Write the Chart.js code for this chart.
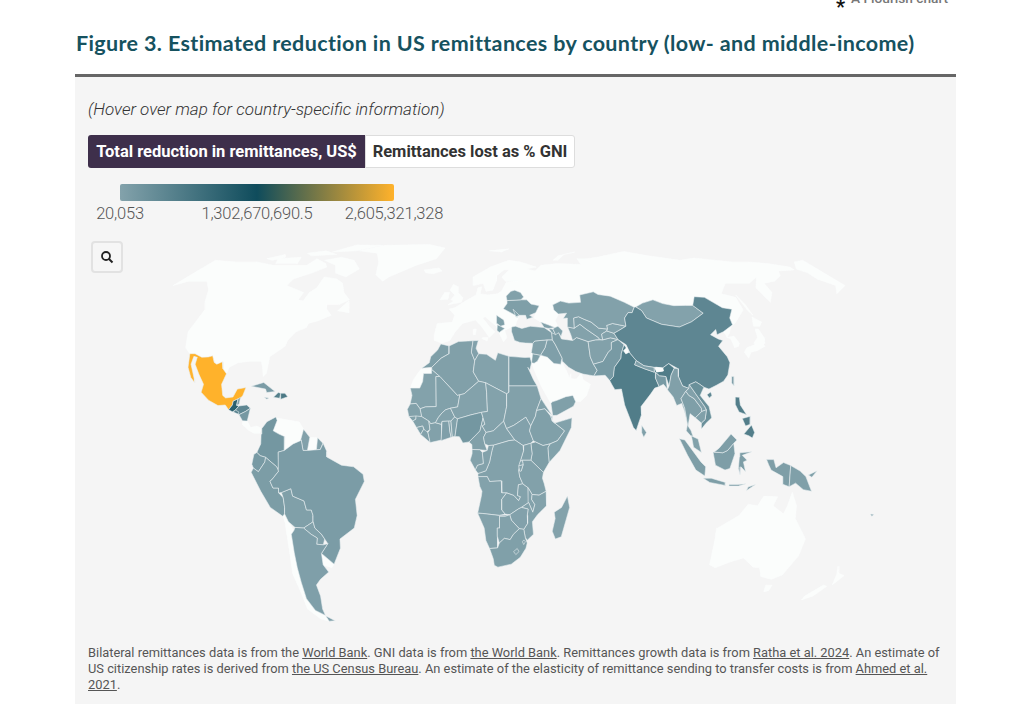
<!DOCTYPE html>
<html>
<head>
<meta charset="utf-8">
<title>Figure 3</title>
<script src="https://cdn.jsdelivr.net/npm/chart.js@4/dist/chart.umd.min.js"></script>
<style>
  html, body { margin: 0; padding: 0; background: #fff; overflow: hidden; }
  body { width: 1023px; height: 719px; position: relative; font-family: Roboto, sans-serif; }
  .abs { position: absolute; white-space: nowrap; }
  #flourish { left: 851px; top: -10px; font-size: 13.7px; color: #777; font-weight: 500; }
  #asterisk { left: 836px; top: -5px; font-size: 20px; color: #111; font-weight: 700; }
  #title { left: 76px; top: 30px; font: 700 21.5px Lato, sans-serif; color: #16525f; letter-spacing: .36px; }
  #rule { left: 75px; top: 74px; width: 881px; height: 3px; background: #666; }
  #panel { left: 75px; top: 77px; width: 881px; height: 627px; background: #f5f5f5; }
  #hint { left: 88px; top: 99px; font-size: 17px; font-style: italic; font-weight: 300; color: #333; }
  .btn { top: 135px; height: 33px; line-height: 33px; box-sizing: border-box; font-size: 16.5px; font-weight: 700; text-align: center; }
  #btn1 { left: 88px; width: 277px; background: #3e2f4b; color: #fff; border-radius: 3px 0 0 3px; }
  #btn2 { left: 365px; width: 210px; background: #fff; color: #333; border: 1px solid #ddd; line-height: 31px; border-radius: 0 3px 3px 0; }
  #ramp { left: 120px; top: 184px; width: 274px; height: 17px; border-radius: 2px;
    background: linear-gradient(to right, #83a2ab, #0f4c5c 50%, #ffb22b); }
  .lab { top: 204px; font-size: 16.5px; font-weight: 300; color: #555; transform: translateX(-50%); letter-spacing: -.2px; }
  #zoomBtn { left: 91px; top: 241px; width: 32px; height: 32px; box-sizing: border-box; border: 2px solid #e2e2e2; border-radius: 4px; background: #f6f6f6; z-index: 3; }
  #mapBox { left: 75px; top: 225px; width: 881px; height: 415px; }
  #note { left: 88px; top: 645px; width: 868px; font-size: 12.85px; line-height: 16px; color: #555; white-space: nowrap; }
  #note u { text-underline-offset: 1px; }
</style>
</head>
<body>
<div class="abs" id="asterisk">*</div>
<div class="abs" id="flourish">A Flourish chart</div>
<div class="abs" id="title">Figure 3. Estimated reduction in US remittances by country (low- and middle-income)</div>
<div class="abs" id="rule"></div>
<div class="abs" id="panel"></div>
<div class="abs" id="hint">(Hover over map for country-specific information)</div>
<div class="abs btn" id="btn1">Total reduction in remittances, US$</div>
<div class="abs btn" id="btn2">Remittances lost as % GNI</div>
<div class="abs" id="ramp"></div>
<div class="abs lab" id="lab0" style="left:120px"></div>
<div class="abs lab" id="lab1" style="left:257px"></div>
<div class="abs lab" id="lab2" style="left:394px"></div>
<div class="abs" id="zoomBtn">
  <svg width="28" height="28" viewBox="0 0 28 28"><circle cx="13" cy="13" r="4" fill="none" stroke="#222" stroke-width="1.8"/><line x1="16" y1="16" x2="19.5" y2="19.5" stroke="#222" stroke-width="2"/></svg>
</div>
<div class="abs" id="mapBox"><canvas id="map"></canvas></div>
<div class="abs" id="note">Bilateral remittances data is from the <u>World Bank</u>. GNI data is from <u>the World Bank</u>. Remittances growth data is from <u>Ratha et al. 2024</u>. An estimate of<br>US citizenship rates is derived from <u>the US Census Bureau</u>. An estimate of the elasticity of remittance sending to transfer costs is from <u>Ahmed et al.<br>2021</u>.</div>

<script>
// ───── DATA ─────
const legendTicks = ["20,053", "1,302,670,690.5", "2,605,321,328"];
const legendValues = [20053, 1302670690.5, 2605321328];
const legendColors = ["#83a2ab", "#0f4c5c", "#ffb22b"];

// Land with no value (high-income countries), lon/lat pairs
// map is cut at 155W, so western Alaska and Chukotka use lon > 180
const noData = [
  [-155,71,-141,70,-128,70,-115,68,-108,68,-95,68,-94,72,-85,69,-82,67,-87,64,-94,61,-94,58,-88,56.5,-82,55,-82,52,-79,51.5,-79,55,-77,57,-78,62,-70,61,-65,59,-61,55,-56,52,-60,50,-66,50,-65,48.5,-61,46,-66,44,-70,43,-70,41.5,-74,40,-76,37,-76,35,-81,31.5,-80,26,-81,25,-82.5,28,-84,30,-89,30,-94,29.5,-97,28,-97.2,26,-99.5,27.5,-101,29.8,-103,29,-106.5,31.8,-111,31.3,-114.8,32.5,-117.1,32.5,-120.5,34.5,-124,40,-124.5,48,-128,51,-133,56,-140,60,-150,60,-155,58],
  [205,71,198,70,192,66,195,64,195,61,200,58,195,54.5,205,58],
  [-80,73,-70,71,-62,66,-66,62,-74,64,-78,68,-88,71],
  [-118,72,-105,73,-102,69,-115,69],
  [-90,77,-80,86,-62,85,-75,78],
  [-125,72,-118,75,-115,73,-120,71],
  [-105,76,-95,78,-85,75,-100,74],
  [-59,47.7,-56,51.5,-53,47],
  [-73,78,-60,85,-30,87,-18,81,-20,72,-30,68,-42,62,-44,60,-50,63,-54,70,-60,76],
  [-24,65.5,-16,66.5,-13.5,65,-18,63.5,-22.5,64],
  [-9,37,-9.5,39,-9,43,-2,43.4,-1.3,46,-4.5,48.4,-1.5,49,2,51,4,52,8,54,8.5,57,10.5,57.5,10,54.5,14,54,19,54.5,21,55.5,23.5,59.5,30,60,23,60,21,62,25,65.5,22,65.5,18,62.5,18,60,16.5,56,13,55.5,11,59,6,58,5,62,14,67,25,71,32,70,41,67,35,66,40,65,44,68,54,69,68,68.5,67,72,73,72,74,68,73,72,80,73,100,77.5,113,74,130,71,140,72.5,160,70,170,70,180,69,190,67,190,65.5,180,65,177,62.5,170,60,163,59,162,55,156.5,51,156,57,163,62,155,59,142,59,135,54.5,141,53,140,48,132,43,130.5,42.5,131,45,134.7,48.3,130.5,48.9,125,53,120,53.3,116.5,49.8,113,49.8,107,49.7,102,50.5,98,52,92,50.7,87.8,49.2,87,49.1,83,51,77,53.5,71,54.2,69,55.3,61.5,54,61,51,55,50.7,51,51.5,46.8,50,47,48,49,46.5,47,44,48,42,46.5,41.5,43.5,42.5,40,43.5,37,45,38,47,35,46,33,46,30,46,28.5,43.5,28,42,26.2,41.7,23,40.5,24,38,22.5,36.5,19.5,41,19,42,13.5,45.5,12.3,45,16,41.7,18.5,40,16,38,12,42,9,44.3,3,43,0,40,-2,37,-5.5,36],
  [-5.5,50,1,51,1.5,52.8,-1.5,55,-2,57.5,-5,58.5,-6,56,-3,54,-4.5,52,-3,51.5],
  [-10,52,-6,52.2,-6,55,-8.5,55],
  [13,38,15.5,38,15,36.8,12.5,37.7],
  [8.3,41,9.7,41,9.5,39,8.4,39],
  [12,78,25,80,20,77],
  [52,71,56,74,68,77,60,75,55,71],
  [142,54,143,50,143,46,142,48],
  [130,33,132,34.5,136,35.5,140,36,140.5,35,136,33.5,133,33,131,31],
  [136,36,139,38,140,41,141.5,41,142,38,141,36,138,35],
  [140,42,142,45.4,145,43.5,143,42],
  [125,38,127,39.5,129.5,42,130.5,42.5,124.5,40,125,39],
  [126.5,34.5,126.5,37.5,125,38,128.5,38.5,129.5,36,128.5,35],
  [34.9,29.5,36,29.3,37.5,30,39,32,42,31.3,44.7,29.2,47.7,28.5,48,30,50,26.7,51,24.5,51.6,25.9,51.6,24.3,54,24.2,56.3,26.2,56.8,24,59.8,22.5,57.8,19,55,17,53,17,52,19,49,18.6,45,17.4,43.2,17,42.6,16.5,39,21.5,36.5,26],
  [34.3,31.3,34.9,29.5,35.5,32.5,35,33],
  [-72,12,-68,11.5,-62,10.7,-60,8.5,-61,5,-64,4,-67.5,2,-67.5,6.2,-70,7,-72.5,8,-71.3,11.2],
  [-57.2,6,-54,5.9,-54.3,2.2,-58,2],
  [-70.4,-18.3,-69.5,-17.5,-68.5,-20,-67,-22.8,-68.5,-24,-69.5,-30,-70.5,-35,-71.5,-40,-73,-46,-72,-50.5,-68.5,-52.5,-68.6,-54.9,-72,-54,-75.5,-50,-74,-44,-73.7,-37,-71.5,-30,-70,-20],
  [-57.6,-30.2,-53.4,-33.8,-55,-35,-58.4,-34],
  [-85.7,11.1,-83.7,11,-82,9,-79.5,9.5,-77.3,8.7,-78,7.3,-80.5,7.3,-83,8.3,-85.7,10],
  [-13,27.7,-8.7,27.7,-8.7,26,-12,26,-12,23.4,-13,21.3,-17,21.3,-16,24,-14.5,26],
  [113.5,-22,114,-26,115,-34,118,-35,124,-33,129,-31.7,135,-34.8,138,-35,140.5,-38,146,-39,150,-37.5,153,-31,153,-25.5,146,-19,145.3,-15,142.6,-10.8,141.5,-15,140.5,-17.5,135.5,-15,136.8,-12.2,131,-12,129,-15,125,-14.5,122,-18,114,-22],
  [145,-41,148,-41,148,-43,146,-43.5],
  [173,-34.5,175.5,-37,178.5,-37.7,176,-41,174.8,-37.5],
  [172,-41,174,-41.5,171,-45,167,-46.5,167,-45]
];

// drawn over the countries
const noDataTop = [
  [88.8,27.2,89,28,92,27.8,92,26.8,89,26.5],
  [76.2,33.5,78,34.6,78.6,33,77,32.4]
];

const countryNames = ["Mexico","Guatemala","Belize","Honduras","El Salvador","Nicaragua","Cuba","Jamaica","Haiti","Dominican Rep.",
  "Colombia","Guyana","French Guiana","Ecuador","Peru","Bolivia","Paraguay","Brazil","Argentina","Tierra del Fuego",
  "Morocco","Algeria","Tunisia","Libya","Egypt","Mauritania","Mali","Senegal","Guinea-Bissau","Guinea","Sierra Leone","Liberia","Cote d'Ivoire","Burkina Faso","Ghana","Togo","Benin","Niger","Nigeria","Cameroon","Chad","CAR","Sudan","South Sudan","Eritrea","Ethiopia","Djibouti","Somalia","Kenya","Uganda","DR Congo","Congo","Gabon","Angola","Zambia","Tanzania","Rwanda","Burundi","Malawi","Mozambique","Zimbabwe","Namibia","Botswana","South Africa","Lesotho","Eswatini","Madagascar",
  "Yemen","Jordan","Iraq","Syria","Turkey","Iran","Afghanistan","Pakistan","Turkmenistan","Uzbekistan","Tajikistan","Kyrgyzstan","Kazakhstan","Mongolia","China","Hainan","Taiwan","India","Nepal","Bangladesh","Myanmar","Thailand","Laos","Vietnam","Cambodia","Malaysia","Sumatra","Java","Kalimantan","Sarawak","Sulawesi","Timor","Flores","Papua","PNG","New Britain","Luzon","Mindanao","Visayas","Sri Lanka",
  "Ukraine","Belarus","Moldova","Georgia","Armenia","Azerbaijan","Serbia","Albania","Fiji"];

// Estimated reduction, US$, read from the map colour
const reductionUSD = [2605321328,1000000000,30000000,420000000,500000000,150000000,90000000,120000000,520000000,620000000,
  170000000,12000000,4000000,120000000,80000000,30000000,10000000,90000000,40000000,40000000,
  50000000,25000000,8000000,4000000,130000000,4000000,20000000,15000000,3000000,9000000,6000000,15000000,12000000,4000000,40000000,9000000,4000000,3000000,170000000,25000000,1000000,1000000,15000000,8000000,10000000,30000000,1000000,6000000,60000000,12000000,9000000,3000000,4000000,4000000,3000000,10000000,2000000,1000000,1000000,1000000,8000000,1000000,1000000,30000000,500000,500000,2000000,
  30000000,30000000,40000000,15000000,50000000,60000000,12000000,120000000,1000000,10000000,500000,2000000,15000000,2000000,420000000,420000000,180000000,560000000,30000000,120000000,25000000,50000000,10000000,280000000,30000000,20000000,60000000,60000000,60000000,60000000,60000000,60000000,60000000,60000000,30000000,30000000,540000000,540000000,540000000,30000000,
  50000000,15000000,6000000,15000000,20000000,6000000,30000000,20000000,120000000];

// Country outlines, lon/lat pairs, same order as countryNames
const outlines = [
  [-117.1,32.5,-114.8,32.5,-111,31.3,-108.2,31.4,-106.5,31.8,-104.5,29.6,-103,29,-101,29.8,-99.5,27.5,-97.2,25.9,-97.8,22.5,-96,19,-94.5,18.2,-91.5,18.5,-90.5,21,-87,21.5,-87.5,19,-88.3,18,-89.1,17.9,-91,17.2,-91,16,-92.2,14.5,-94,16,-97,15.8,-101.5,17.5,-105.5,20,-105.5,22.5,-109,25.7,-112.5,29,-113,31.3,-114.7,31.6,-114.3,29,-110.5,24.5,-109.5,23,-112,24.7,-115,28],
  [-92.2,14.5,-91,16,-91,17.2,-89.2,17.9,-89.2,15.9,-88.2,15.7,-89.3,14.4,-90.5,13.9],
  [-89.2,17.9,-88.3,18.4,-88.2,16.2,-89.2,15.9],
  [-89.3,14.4,-88.2,15.7,-85,16,-83.2,15,-85,14,-87.5,13],
  [-90.1,13.8,-89.3,14.4,-87.7,13.8,-88,13.2],
  [-87.5,13,-85,14,-83.2,15,-83.7,11,-85.7,11.1],
  [-84.9,21.9,-80,23.1,-74.2,20.2,-77.7,19.9,-78.5,21],
  [-78.3,18.4,-76.3,18.2,-77,17.8],
  [-74.4,18.4,-72.8,19.9,-71.7,19.7,-71.7,18.1],
  [-71.7,19.7,-69.9,19.7,-68.4,18.6,-71.4,17.7],
  [-77.3,8.7,-75.5,10.8,-72,12.3,-71.3,11.2,-72.5,8,-70,7,-67.5,6.2,-67.5,2,-70,1.5,-69.9,-4.3,-70.7,-3,-75.2,-0.1,-77.4,0.4,-78.8,1.4,-77.3,4,-77.4,7],
  [-60,8.5,-57.2,6,-58,2,-59.8,2,-60.7,5.2,-61,5],
  [-54,5.9,-51.7,4.2,-52.7,2.3,-54.3,2.2],
  [-80.9,-2.2,-80,0.8,-78.8,1.4,-77.4,0.4,-75.2,-0.1,-75.5,-1.5,-78.3,-4.5,-80.3,-3.4],
  [-81.3,-4.7,-80.3,-3.4,-78.3,-4.5,-75.5,-1.5,-75.2,-0.1,-70.7,-3,-69.9,-4.3,-73,-7,-73.8,-7.4,-72.8,-9.5,-70.5,-9.5,-70.6,-11,-69,-12.5,-69,-15.5,-69.5,-17.5,-70.4,-18.3,-75,-15.5,-78,-10.5],
  [-69.5,-10.9,-65.4,-9.7,-65,-12,-60.5,-13.5,-60,-16.3,-58,-16.3,-57.6,-18,-58,-20,-62.6,-22,-66.2,-21.8,-68.5,-20,-69.5,-17.5,-69,-15.5,-69,-12.5],
  [-62.6,-22,-58,-20,-57.8,-22,-55.5,-24,-54.6,-25.5,-55.8,-27.4,-58.6,-27.2,-57.7,-25.2,-60,-24],
  [-51.6,4.2,-50,1.7,-50,0,-44,-2.5,-39,-3,-35.2,-5.3,-34.8,-7.5,-39,-13,-39,-18,-41,-22,-48,-25.5,-48.7,-28.5,-53.4,-33.8,-57.6,-30.2,-53.7,-27,-54.6,-25.5,-55.5,-24,-57.8,-22,-58,-20,-57.6,-18,-58,-16.3,-60,-16.3,-60.5,-13.5,-65,-12,-65.4,-9.7,-69.5,-10.9,-70.6,-11,-70.5,-9.5,-72.8,-9.5,-73.8,-7.4,-73,-7,-69.9,-4.3,-70,1.5,-67.5,2,-64,4,-61,5,-60.7,5.2,-59.8,2,-58,2,-54.3,2.2,-52.7,2.3],
  [-66.2,-21.8,-62.6,-22,-60,-24,-57.7,-25.2,-58.6,-27.2,-55.8,-27.4,-53.7,-27,-57.6,-30.2,-58.4,-34,-57,-36.5,-62,-39,-65,-41,-65.5,-45,-68,-50,-68.5,-52.5,-72,-50.5,-73,-46,-71.5,-40,-70.5,-35,-69.5,-30,-68.5,-24,-67,-22.8],
  [-68.5,-52.7,-65.3,-54.7,-68.6,-54.9],

  [-5.9,35.8,-2,35.1,-1.7,32.5,-5,31,-8.7,28,-13,27.7,-10,29.5,-9.7,31.5,-7,33.7],
  [-2,35.1,2,36.6,8.6,36.9,8.2,33,9.9,30.2,9.5,26.5,12,23.5,6,19.5,3.2,19,-4.8,25,-8.7,27.3,-8.7,28,-5,31,-1.7,32.5],
  [8.6,36.9,11,37,10.2,34.3,11.5,32.5,9.9,30.2,8.2,33],
  [11.5,32.5,15,32.3,19,30.3,20,32.8,25,31.6,25,20,24,19.5,15,23,12,23.5,9.5,26.5,9.9,30.2],
  [25,31.6,32,31.2,34.3,31.3,34.9,29.5,34,27,33.2,28,35.5,24,37,22,25,22],
  [-17,21.3,-13,21.3,-12,23.4,-12,26,-8.7,26,-8.7,27.3,-4.8,25,-6.5,25,-5.5,15.5,-10,15.4,-12.2,14.8,-14,16.5,-16.5,16.3,-16,19],
  [-12.2,14.8,-10,15.4,-5.5,15.5,-6.5,25,-4.8,25,3.2,19,4.2,19.2,3.5,15.4,0.5,15,-1.5,14.5,-3,13.5,-4.5,12,-5.5,10.5,-7.5,10.2,-8.3,11,-11.4,12.4],
  [-17.5,14.7,-16.5,16.3,-14,16.5,-12.2,14.8,-11.4,12.4,-16.7,12.4],
  [-16.7,12.4,-13.7,12.6,-13.7,11.6,-15,11],
  [-15,11,-13.7,11.6,-13.7,12.6,-11.4,12.4,-8.3,11,-7.7,8.4,-9.5,7.4,-10.8,9.5,-13.3,9],
  [-13.3,9,-10.8,9.5,-10.3,8.5,-11.5,6.9],
  [-11.5,6.9,-10.3,8.5,-8.5,7.5,-7.5,4.4],
  [-7.5,4.4,-8.5,7.5,-7.7,8.4,-8.3,11,-7.5,10.2,-5.5,10.5,-3,10,-2.8,5.2],
  [-5.5,10.5,-4.5,12,-3,13.5,-1.5,14.5,0.5,15,2.4,12.3,0.9,11,0,11,-2.8,10.9,-3,10],
  [-3,5,-2.8,10.9,0,11,0.5,8,1.1,6],
  [1.1,6,0.5,8,0,11,0.9,11,1.6,6.2],
  [1.6,6.2,0.9,11,2.4,12.3,3.6,11.7,2.7,6.3],
  [0.5,15,3.5,15.4,4.2,19.2,6,19.5,12,23.5,15,23,15.5,20,16,14,13.5,13.7,9,12.9,3.6,11.7,2.4,12.3],
  [2.7,6.3,3.6,11.7,9,12.9,13.5,13.7,14.2,12,13,8,11.7,7,8.5,4.6,6,4.3,4.5,6.2],
  [8.5,4.6,11.7,7,13,8,14.2,12,15,10,13.9,9.5,15.5,7.5,14.5,6,15,4,16,2,13,2.2,9.8,2.3,9.7,3.8],
  [13.5,13.7,16,14,15.5,20,15,23,24,19.5,24,15.5,22.8,11,18.5,8,15.5,7.5,13.9,9.5,15,10,14.2,12],
  [15.5,7.5,18.5,8,22.8,11,24,8.7,27.4,5.2,25,5,18.6,3.6,16.5,3.5,15,4,14.5,6],
  [24,19.5,25,20,25,22,37,22,38.5,18,36.5,14.3,36,12.5,34,9.5,33,10.8,32,12.2,27,9.7,24,8.7,22.8,11,24,15.5],
  [24,8.7,27,9.7,32,12.2,33,10.8,34,9.5,33.5,8,35,5,34,4.2,30.8,3.5,27.4,5.2],
  [36.5,14.3,38.5,18,43,12.7,40,14.8],
  [36.5,14.3,40,14.8,42.4,12.5,43,11,48,8,45,5,41.9,4,39,3.5,35.9,4.6,35,5,33.5,8,34,9.5,36,12.5],
  [42.4,12.5,43.3,12.4,43,11],
  [43,11,44,10.4,51.2,12,50.8,9,46,2,41.5,-1.7,41,2.8,41.9,4,45,5,48,8],
  [34,4.2,35.9,4.6,39,3.5,41.9,4,41,2.8,41.5,-1.7,39.2,-4.7,34,-1,34.5,1],
  [30.8,3.5,34,4.2,34.5,1,34,-1,30.5,-1,29.6,-1.4,31,2],
  [12.2,-6,12.2,-5,13.2,-4.8,15.5,-4.2,17,-1.5,18,2,18.6,3.6,25,5,27.4,5.2,30.8,3.5,31,2,29.6,-1.4,29,-4,29.4,-6,30.7,-8.2,28.9,-8.5,28.5,-11.8,29.8,-12.2,29,-13.4,27,-11.8,24,-11,22,-11,21.8,-7.3,17,-7.5,16,-6],
  [11.1,-3.9,12.2,-5,13.2,-4.8,15.5,-4.2,17,-1.5,18,2,18.6,3.6,16.5,3.5,16,2,14,1.4,14.4,-2,12,-2.5],
  [9,-1,9.8,1,9.8,2.3,13,2.2,14,1.4,14.4,-2,12,-2.5,11.1,-3.9],
  [12.2,-6,16,-6,17,-7.5,21.8,-7.3,22,-11,24,-11,22,-13,22,-16.3,23.4,-17.6,20.9,-18,13.9,-17.4,11.8,-17.3,13.5,-12,13.8,-10.5,12.9,-9],
  [24,-11,27,-11.8,29,-13.4,29.8,-12.2,28.5,-11.8,28.9,-8.5,30.7,-8.2,32.9,-9.4,33.2,-14,30.2,-15.5,28.9,-16,25.3,-17.8,23.4,-17.6,22,-16.3,22,-13],
  [30.5,-1,34,-1,39.2,-4.7,38.8,-6.5,39.5,-8,40.4,-10.5,37.5,-11.7,34.6,-11.5,32.9,-9.4,30.7,-8.2,29.4,-6,29,-4,30,-4.3,30.8,-2.4],
  [29.6,-1.4,30.5,-1,30.8,-2.4,29,-2.7],
  [29,-2.7,30.8,-2.4,30,-4.3,29.4,-4.4],
  [32.9,-9.4,34.6,-11.5,34.4,-13,35.8,-14.6,35,-17,33.2,-14],
  [40.4,-10.5,40.7,-15,37,-17.8,34.9,-20,35.5,-24,32.9,-25.9,32,-25,31.3,-22.4,32.9,-20.5,32.7,-18,33,-16,30.2,-15.5,33.2,-14,35,-17,35.8,-14.6,34.4,-13,34.6,-11.5,37.5,-11.7],
  [25.3,-17.8,28.9,-16,30.2,-15.5,33,-16,32.7,-18,32.9,-20.5,31.3,-22.4,29.4,-22.2,26,-19.5],
  [11.8,-17.3,13.9,-17.4,20.9,-18,25.3,-17.8,23.4,-18.3,21,-18.3,21,-22,20,-22,20,-28.4,16.5,-28.6,15,-26,14.4,-22],
  [21,-18.3,23.4,-18.3,25.3,-17.8,26,-19.5,29.4,-22.2,26.9,-24,25.5,-25.7,23,-25.3,20.8,-26.8,20,-24.7,20,-22,21,-22],
  [16.5,-28.6,20,-28.4,20.8,-26.8,23,-25.3,25.5,-25.7,26.9,-24,29.4,-22.2,31.3,-22.4,32,-25,32.9,-26.8,32.4,-28.5,30,-31.5,26,-33.8,20,-34.8,18.4,-34.2,18,-32],
  [27,-29.6,28.6,-28.6,29.4,-29.6,28,-30.6],
  [30.8,-26.4,31.4,-25.8,32.1,-26.4,31.4,-27.3],
  [49.3,-12,50.4,-15.5,47.5,-24.8,45,-25.5,43.5,-23,44.5,-19,44,-17,47,-15.5],

  [42.6,16.5,43.2,12.7,45,12.8,52,15.6,53,17,52,19,49,18.6,45,17.4,43.2,17],
  [34.9,29.5,36,29.3,37.5,30,39,32,36.8,32.3,35.5,32.5],
  [39,32,42,31.3,44.7,29.2,47.7,29,48,30,48.5,31,46,35.5,44.8,37.2,42.4,37.2,41.2,34.5],
  [35.5,32.5,36.8,32.3,39,32,41.2,34.5,42.4,37.2,36.7,36.8,35.8,36,35,33],
  [26.2,40,26.2,41.7,28,42,31,41.2,35,42,41.5,41.5,44.8,39.7,44.8,37.2,42.4,37.2,36.7,36.8,35.8,36,32.5,36.1,30,36.3,27.5,37],
  [44.8,39.7,48,39.7,49,37.5,54,37,56,38,61,36.6,61,31.4,62,29,63.3,27,61.6,25.2,57,25.8,54,26.6,51,28,48.5,30,48.5,31,46,35.5,44.8,37.2],
  [61,36.6,64.5,37.2,67.8,37.2,71.5,37.9,74.8,37.3,71.5,36.3,71,34,69.3,33,66.3,29.9,62,29,61,31.4],
  [61.6,25.2,63.3,27,62,29,66.3,29.9,69.3,33,71,34,71.5,36.3,74.8,37.3,77,35.5,75,32.5,74.5,31,71,28,70,25,68.2,23.7,66.5,25.4],
  [52.5,41.7,55.5,41.3,58.5,42.7,61,41,66,38,66.5,37.3,64.5,37.2,61,36.6,56,38,54,37,53.5,39],
  [56,45,58.5,45.5,61,44.5,64,43.5,67,41.3,71,41,70.5,40.3,67.8,39.2,67.8,37.2,66.5,37.3,66,38,61,41,58.5,42.7,55.5,41.3],
  [67.8,37.2,67.8,39.2,70.5,40.3,73.6,39.5,74.8,37.3,71.5,37.9],
  [70.5,40.3,71,41,71,42.3,74,43,80,42,76,40.4,73.6,39.5],
  [47,48,46.8,50,51,51.5,55,50.7,61,51,61.5,54,69,55.3,71,54.2,77,53.5,83,51,87,49.1,85,47,83,47,80.5,45,80,42,74,43,71,42.3,71,41,67,41.3,64,43.5,61,44.5,58.5,45.5,56,45,55.5,41.3,52.5,41.7,53,45,51,44.8,53,46.8,49,46.5],
  [87.8,49.2,92,50.7,98,52,102,50.5,107,49.7,113,49.8,116.5,49.8,119.5,46.8,111.8,43.6,105,41.7,97,42.7,91,45,90,47.8],
  [73.6,39.5,76,40.4,80,42,80.5,45,83,47,85,47,87,49.1,87.8,49.2,90,47.8,91,45,97,42.7,105,41.7,111.8,43.6,119.5,46.8,116.5,49.8,120,53.3,125,53,130.5,48.9,134.7,48.3,131,45,130.5,42.5,124.5,40,121,39,121.5,40.8,118,39,120.7,37.5,122.5,37,119.5,35,121.7,31.5,122,29.5,119.5,25.5,117,23.5,113.5,22.2,110,21,108,21.6,106.5,22.5,105,23.3,102,22.4,101.5,21.2,99,22,98,25,98.7,27.5,95,29.2,92,27.8,89,28,88,28,84,28.5,81,30.2,79,32.5,78,35.5,74.8,37.3],
  [108.7,19.2,110.5,20.1,110.8,19,109.5,18.2],
  [121,25,122,25,121,22,120.2,23],
  [77,35.5,79,32.5,81,30.2,80,28.8,84,27.5,88,26.4,88.2,27.9,88.8,27.2,89,26.5,92,26.8,92,27.8,95,29.2,97,27.7,95,25.5,93.3,22,92.6,25,89.9,25.2,88.5,26.3,88,24.5,89,21.8,87,21.3,85,19.5,80.3,15.5,80.2,13,77.6,8.1,76.5,9,73.5,16,72.8,21,70,20.8,69,22.3,68.2,23.7,70,25,71,28,74.5,31,75,32.5],
  [80,28.8,81,30.2,84,28.5,88,28,88.2,27.9,88,26.4,84,27.5],
  [88,24.5,88.5,26.3,89.9,25.2,92.6,25,92.3,21,91,22.5,89,21.8],
  [92.3,20.8,93.3,22,95,25.5,97,27.7,98.7,27.5,98,25,99,22,101.5,21.2,100,20.3,97.5,18,98.5,15,99,10,98.3,14,97.5,16.5,95.3,15.8,94.3,18.5],
  [97.5,18,100,20.3,101,19,103,18,105.5,15,105.5,14,102.5,12,100.5,13.3,99.2,9.5,100.3,8,101,6.2,100,6.5,98.3,8,99,10,98.5,15],
  [101.5,21.2,102,22.4,104,19.5,107,15.5,107.5,14.5,105.5,14,105.5,15,103,18,101,19,100,20.3],
  [102,22.4,105,23.3,106.5,22.5,108,21.6,105.8,19,108.8,15.5,109.3,12,106.7,10.3,104.8,8.7,104.8,10.4,106.5,11.5,107.5,14.5,107,15.5,104,19.5],
  [102.5,12,105.5,14,107.5,14.5,106.5,11.5,104.8,10.4],
  [100.3,6.5,101,6.2,103,5.5,104.2,1.4,101,3],
  [95.3,5.6,97.5,5.2,104,-1.5,106,-3,105.8,-5.8,102,-4,98.5,0.5],
  [105.2,-6.5,108.5,-6.5,114.5,-7.8,114.5,-8.7,108,-7.8],
  [109,1.5,113,1.3,115,2,117.6,4.2,118,1,116,-3.5,114,-4,110,-2.5],
  [109.5,1.5,111.5,2.7,116.7,7,119,5.2,117.6,4.2,115,2,113,1.3],
  [120,1.3,125,1.6,121,0.5,123,-1,121.5,-1.5,122.5,-4.5,120.5,-3,120.3,-5.5,119.5,-3.5,119.8,0],
  [123.5,-10.3,127,-8.4,124,-9.2],
  [116,-8.4,120,-8.4,123,-8.2,120,-8.9,116,-8.9],
  [131,-0.8,134,-0.8,135,-3.3,138,-1.7,141,-2.6,141,-9.1,138,-8.3,138,-6,133,-4,132,-2.5],
  [141,-2.6,145,-4.3,147.5,-6,150.5,-10.5,147,-10,143.5,-8,141,-9.1],
  [148.5,-5.5,152,-4.2,150,-6.2],
  [120.5,18.5,122.2,18.4,122,16,124,13,121,13.8,120,16],
  [122,7,125.5,9.8,126.5,7.5,125.4,5.8,124,6.5],
  [122,11.8,125.5,12.5,125,10,123,9.5],
  [80,9.7,81.8,7.5,80.6,6,79.8,7.5],

  [22.2,48.5,24,50.5,24,51.7,31,52,34,52,36,50.3,40,49.7,38,47,35,46,36.5,45.3,33.5,44.5,33,46,30,46,28.5,45.3,29.5,45.4],
  [24,51.7,31,52,32.5,53.2,31,55,28,56,26,55.5,23.5,53.5],
  [27,48.3,30,46,28.3,45.5],
  [40,43.5,43.5,42.5,46.5,41.5,43.5,41.2,41.5,41.5],
  [43.5,41.2,45.5,41,46.5,39,44.8,39.7],
  [46.5,41.5,48,42,50,40.3,48.9,38.4,48,39.7,46.5,39,45.5,41],
  [19,46,22.5,44.3,23,42.5,21,42,19.3,43,19,44.8],
  [19.5,42.5,21,42,23,41.2,20.5,39.8,19.4,40.5],
  [177.2,-17.6,178.7,-17.7,178,-18.3]
];

// ───── MAP ─────
const CENTER_LON = 25;

// Equal Earth projection, centred on CENTER_LON
function project(lon, lat) {
    const A1 = 1.340264, A2 = -0.081106, A3 = 0.000893, A4 = 0.003796;
    const t = Math.asin(Math.sqrt(3) / 2 * Math.sin(lat * Math.PI / 180));
    const t2 = t * t, t6 = t2 * t2 * t2;
    const d = A1 + 3 * A2 * t2 + t6 * (7 * A3 + 9 * A4 * t2);
    return {
        x: 2 * Math.sqrt(3) * (lon - CENTER_LON) * Math.cos(t) / (3 * d),
        y: t * (A1 + A2 * t2 + t6 * (A3 + A4 * t2)) * 180 / Math.PI
    };
}

function toPoints(flat) {
    const pts = [];
    for (let i = 0; i < flat.length; i += 2) pts.push(project(flat[i], flat[i + 1]));
    pts.push(pts[0]);
    return pts;
}

function rgb(hex) {
    return [1, 3, 5].map(i => parseInt(hex.slice(i, i + 2), 16));
}

function colorFor(v) {
    const i = v < legendValues[1] ? 0 : 1;
    const t = (v - legendValues[i]) / (legendValues[i + 1] - legendValues[i]);
    const a = rgb(legendColors[i]), b = rgb(legendColors[i + 1]);
    return "rgb(" + a.map((c, k) => Math.round(c + (b[k] - c) * t)).join(",") + ")";
}

legendTicks.forEach((t, i) => { document.getElementById("lab" + i).textContent = t; });

const LAND = "#fbfdfc";
const landSet = p => ({
    data: toPoints(p), showLine: true, fill: "shape", backgroundColor: LAND,
    borderColor: LAND, borderWidth: 0.5, pointRadius: 0, tension: 0
});
const datasets = noData.map(landSet);
outlines.forEach((p, i) => datasets.push({
    label: countryNames[i],
    data: toPoints(p), showLine: true, fill: "shape", backgroundColor: colorFor(reductionUSD[i]),
    borderColor: "rgba(236,241,242,0.7)", borderWidth: 0.8, pointRadius: 0, tension: 0
}));
noDataTop.forEach(p => datasets.push(landSet(p)));
// later entries on top
datasets.forEach((d, i) => { d.order = datasets.length - i; });

new Chart(document.getElementById("map").getContext("2d"), {
    type: "scatter",
    data: { datasets },
    options: {
        responsive: true, maintainAspectRatio: false, animation: false,
        layout: { padding: 0 },
        plugins: { legend: { display: false }, tooltip: { enabled: false } },
        scales: {
            x: { type: "linear", display: false, min: -153.9, max: 158.5 },
            y: { type: "linear", display: false, min: -64.9, max: 82.27 }
        }
    }
});
</script>
</body>
</html>
